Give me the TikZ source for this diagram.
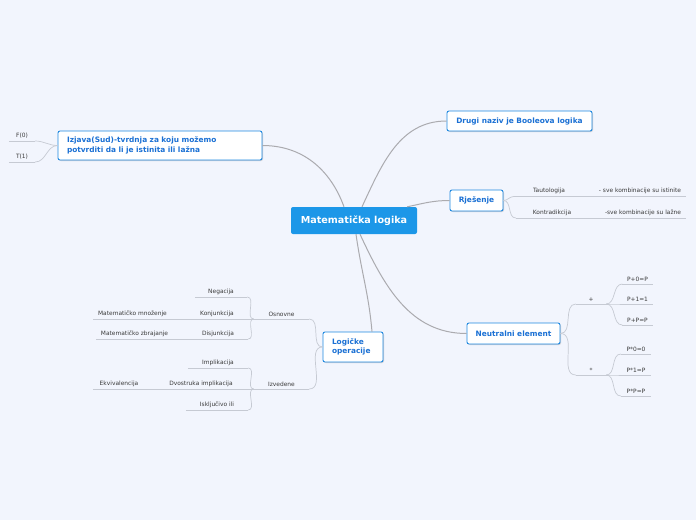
\documentclass[tikz,border=0pt]{standalone}
\usepackage{fontspec}
\setmainfont{DejaVu Sans}
\usetikzlibrary{positioning,shadows}
\definecolor{Sky}{HTML}{F2F5FD}
\definecolor{Core}{HTML}{1C97E8}
\definecolor{Edge}{HTML}{1E88E0}
\definecolor{Label}{HTML}{1A70D4}
\definecolor{Branch}{HTML}{ABABAF}
\definecolor{Twig}{HTML}{C6CAD3}
\definecolor{Small}{HTML}{3A3A3A}
\tikzset{
  core/.style={fill=Core, rounded corners=2pt, text=white, font=\bfseries\fontsize{9.6}{11}\selectfont, minimum width=126pt, minimum height=27pt, inner sep=0pt},
  topic/.style={draw=Edge, fill=white, rounded corners=2pt, line width=0.9pt, text=Label, font=\bfseries\fontsize{7.4}{9.6}\selectfont, inner sep=0pt, drop shadow={shadow xshift=1pt, shadow yshift=-1pt, opacity=0.3}},
  leaf/.style={font=\fontsize{5.9}{6.5}\selectfont, text=Small, anchor=south, inner xsep=0pt, inner ysep=2.5pt, minimum width=#1},
  leaf/.default=30pt,
  branch/.style={draw=Branch, line width=1pt},
  twig/.style={draw=Twig, line width=0.7pt}
}
\begin{document}
\begin{tikzpicture}[x=1pt, y=-1pt]
  \fill[Sky] (0,0) rectangle (696,520);

  % centre
  \node[core] (main) at (354,220.5) {Matematička logika};

  % first level
  \node[topic, minimum width=204pt, minimum height=29pt, text width=186pt, align=left] (izjava) at (160,145.5) {Izjava(Sud)-tvrdnja za koju možemo\\potvrditi da li je istinita ili lažna};
  \node[topic, minimum width=145pt, minimum height=20pt] (drugi) at (519.5,121) {Drugi naziv je Booleova logika};
  \node[topic, minimum width=53pt, minimum height=21pt] (rjes) at (476.5,200.5) {Rješenje};
  \node[topic, minimum width=93pt, minimum height=21pt] (neutral) at (513.5,333.5) {Neutralni element};
  \node[topic, minimum width=60pt, minimum height=30pt, text width=42pt, align=left] (logicke) at (353,347) {Logičke\\operacije};

  \draw[branch] ([xshift=-10pt]main.north) to[out=110,in=0] (izjava.east);
  \draw[branch] ([xshift=8pt]main.north) to[out=65,in=180] (drugi.west);
  \draw[branch] ([xshift=-10pt]main.north east) to[out=12,in=180] (rjes.west);
  \draw[branch] ([xshift=6pt]main.south) to[out=-65,in=180] (neutral.west);
  \draw[branch] ([xshift=2pt]main.south) to[out=-82,in=95] ([xshift=19pt]logicke.north);

  % izjava
  \node[leaf=26pt] (f0) at (22,141) {F(0)};
  \node[leaf=26pt] (t1) at (22,162) {T(1)};
  \draw[twig] (izjava.west) to[out=180,in=0] (f0.south east);
  \draw[twig] (izjava.west) to[out=180,in=0] (t1.south east);

  % rjesenje
  \node[leaf=70pt] (taut) at (549,196.5) {Tautologija};
  \node[leaf=92pt] (tautd) at (640,196.5) {- sve kombinacije su istinite};
  \node[leaf=72pt] (kontr) at (552,218) {Kontradikcija};
  \node[leaf=86pt] (kontrd) at (643,218) {-sve kombinacije su lažne};
  \draw[twig] (rjes.east) to[out=0,in=180] (taut.south west);
  \draw[twig] (rjes.east) to[out=0,in=180] (kontr.south west);
  \draw[twig] (taut.south east) -- (tautd.south west);
  \draw[twig] (kontr.south east) -- (kontrd.south west);

  % neutralni element
  \node[leaf] (plus) at (591,304) {+};
  \node[leaf] (pzero) at (637.5,284) {P+0=P};
  \node[leaf] (pone) at (637.5,304) {P+1=1};
  \node[leaf] (pself) at (637.5,325) {P+P=P};
  \node[leaf] (puta) at (591,375) {*};
  \node[leaf] (mzero) at (636,354) {P*0=0};
  \node[leaf] (mone) at (636,375) {P*1=P};
  \node[leaf] (mself) at (636,396) {P*P=P};
  \draw[twig] (neutral.east) to[out=0,in=180] (plus.south west);
  \draw[twig] (neutral.east) to[out=0,in=180] (puta.south west);
  \foreach \n in {pzero,pone,pself}
    \draw[twig] (plus.south east) to[out=0,in=180] (\n.south west);
  \foreach \n in {mzero,mone,mself}
    \draw[twig] (puta.south east) to[out=0,in=180] (\n.south west);

  % logicke operacije
  \node[leaf=55pt] (osn) at (281.5,319) {Osnovne};
  \node[leaf=55pt] (izv) at (281.5,389) {Izvedene};
  \node[leaf=52pt] (neg) at (221,297) {Negacija};
  \node[leaf=62pt] (konj) at (217,319) {Konjunkcija};
  \node[leaf=60pt] (disj) at (218,339) {Disjunkcija};
  \node[leaf=78pt] (mnoz) at (132.5,319) {Matematičko množenje};
  \node[leaf=76pt] (zbra) at (134.5,339) {Matematičko zbrajanje};
  \node[leaf=60pt] (impl) at (218,368) {Implikacija};
  \node[leaf=94pt] (dvo) at (201,389) {Dvostruka implikacija};
  \node[leaf=62pt] (iskl) at (217,410) {Isključivo ili};
  \node[leaf=52pt] (ekv) at (119,389) {Ekvivalencija};
  \draw[twig] (logicke.west) to[out=180,in=0] (osn.south east);
  \draw[twig] (logicke.west) to[out=180,in=0] (izv.south east);
  \foreach \n in {neg,konj,disj}
    \draw[twig] (osn.south west) to[out=180,in=0] (\n.south east);
  \foreach \n in {impl,dvo,iskl}
    \draw[twig] (izv.south west) to[out=180,in=0] (\n.south east);
  \draw[twig] (konj.south west) -- (mnoz.south east);
  \draw[twig] (disj.south west) -- (zbra.south east);
  \draw[twig] (dvo.south west) -- (ekv.south east);

  % underlines
  \foreach \n in {f0,t1,taut,tautd,kontr,kontrd,plus,pzero,pone,pself,puta,mzero,mone,mself,osn,izv,neg,konj,disj,mnoz,zbra,impl,dvo,iskl,ekv}
    \draw[twig] (\n.south west) -- (\n.south east);
\end{tikzpicture}
\end{document}
